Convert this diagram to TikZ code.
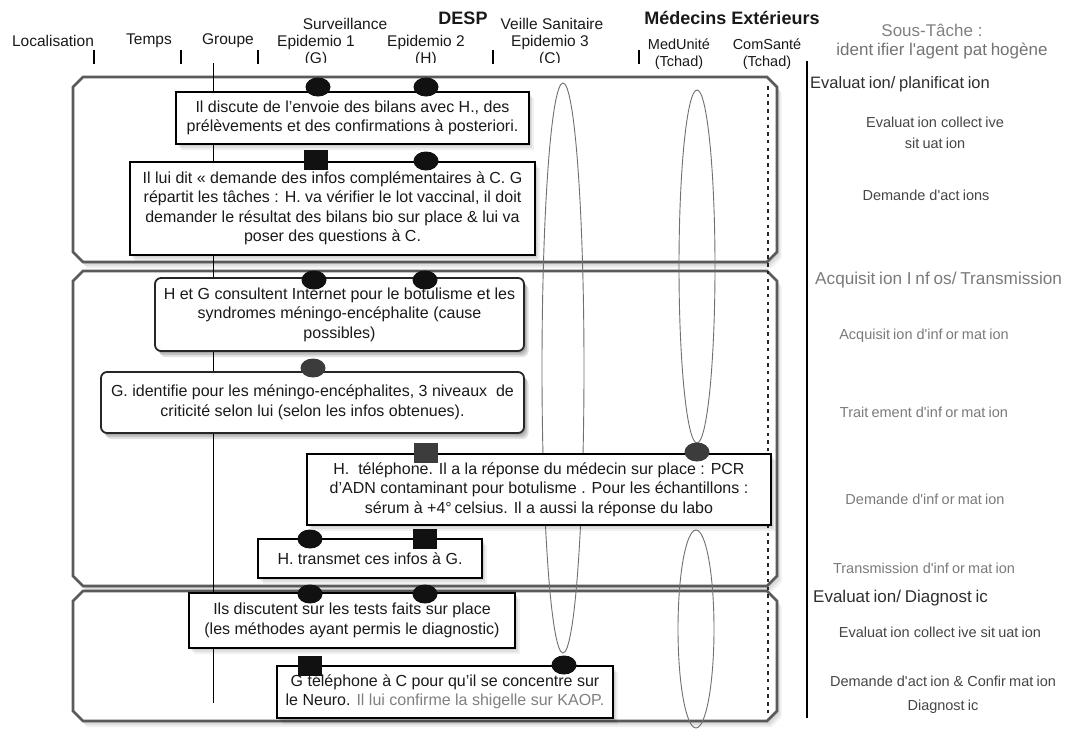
\documentclass[tikz,border=0pt]{standalone}
\usepackage{fontspec}
\setmainfont{Liberation Sans}
\usetikzlibrary{shapes.geometric}

\definecolor{ink}{HTML}{1A1A1A}
\definecolor{frame}{HTML}{5A5A5A}
\definecolor{lens}{HTML}{707070}
\definecolor{mark}{HTML}{111111}
\definecolor{markgray}{HTML}{3C3C3C}
\definecolor{lbldark}{HTML}{2E2E2E}
\definecolor{lblmid}{HTML}{454545}
\definecolor{lbllight}{HTML}{7A7A7A}

% small gap used in the task labels
\newcommand\gp{\kern.22em\relax}
\newcommand\fs[2]{\fontsize{#1}{#2}\selectfont}
\newcommand\sq{\textquotesingle}

\tikzset{
  softshadow/.style={
    preaction={fill=black,opacity=.07,transform canvas={xshift=1.5pt,yshift=-2pt}},
    preaction={fill=black,opacity=.07,transform canvas={xshift=3pt,yshift=-4pt}},
    preaction={fill=black,opacity=.06,transform canvas={xshift=4.5pt,yshift=-6pt}}},
  panel/.style={draw=frame,line width=2.6pt,fill=white,softshadow,line join=miter},
  ibox/.style={rectangle,draw=black,line width=1.3pt,fill=white,softshadow,
    align=center,inner sep=0pt,text=ink,font=\fs{16}{19.5}},
  rbox/.style={ibox,rounded corners=6pt,line width=1.8pt,draw=black!85},
  dotm/.style={ellipse,fill=mark,minimum width=25pt,minimum height=19pt,inner sep=0pt},
  sqm/.style={rectangle,fill=mark,minimum width=24pt,minimum height=20pt,inner sep=0pt},
  lensline/.style={ellipse,draw=lens,line width=0.9pt,inner sep=0pt},
  head/.style={text=black!90,font=\fs{15.5}{17},inner sep=0pt,align=center},
  bighead/.style={text=black!90,font=\bfseries\fs{18}{20},inner sep=0pt},
  tick/.style={line width=2.4pt},
  dotrule/.style={line width=2.4pt,draw=black!85,dash pattern=on 3.5pt off 4.2pt},
  task/.style={inner sep=0pt,align=center,font=\fs{14.5}{21}},
  phase/.style={inner sep=0pt,anchor=west,font=\fs{17}{20}},
}

\newcommand\ibox[7][]{%
  \node[ibox,#1,minimum width={#5-#3},minimum height={#6-#4}] (#2)
    at ({(#3+#5)/2},{(#4+#6)/2}) {#7};}
\newcommand\panelbox[4]{%
  \draw[panel] ({#1+10},#2) -- ({#3-10},#2) -- (#3,{#2+10}) -- (#3,{#4-10})
    -- ({#3-10},#4) -- ({#1+10},#4) -- (#1,{#4-10}) -- (#1,{#2+10}) -- cycle;}

\begin{document}
\begin{tikzpicture}[x=1pt,y=-1pt]
\useasboundingbox (0,0) rectangle (1069,731);

% ---- column headers
\node[head] (hLoc) at (53,41) {Localisation};
\node[head] (hTps) at (149,41) {Temps};
\node[head] (hGrp) at (228,41) {Groupe};
\node[bighead] (hDesp) at (463,18) {DESP};
\node[head] (hSurv) at (345,24) {Surveillance};
\node[head] (hVeil) at (552,24) {Veille Sanitaire};
\node[head] (hE1) at (316,42) {Epidemio 1};
\node[head] (hE2) at (426,42) {Epidemio 2};
\node[head] (hE3) at (550,42) {Epidemio 3};
\node[head] (hG) at (316,59) {(G)};
\node[head] (hH) at (426,59) {(H)};
\node[head] (hC) at (550,59) {(C)};
\node[bighead] (hMed) at (732,18) {Médecins Extérieurs};
\node[head,font=\fs{14.5}{17}] (hMU) at (679,44) {MedUnité};
\node[head,font=\fs{14.5}{17}] (hCS) at (767,44) {ComSanté};
\node[head,font=\fs{14.5}{17}] (hMUt) at (679,63) {(Tchad)};
\node[head,font=\fs{14.5}{17}] (hCSt) at (767,63) {(Tchad)};
\node[head,text=black!50,font=\fs{17}{20}] (hSous) at (932,30) {Sous-Tâche :};
\node[head,text=black!55,font=\fs{17}{20}] (hId) at (942,51)
  {ident\gp ifier l\sq agent pat\gp hogène};
\fill[white] (270,63) rectangle (620,77);

% header ticks
\foreach \tx in {94,181,258,493,639}
  \draw[tick] (\tx,50) -- (\tx,64);

% ---- phase panels
\panelbox{73}{77}{777}{262}
\panelbox{73}{271}{777}{586}
\panelbox{73}{591}{777}{721}

\draw[dotrule] (768,86) -- (768,716);

% group time line
\coordinate (grpTop) at (213,63);
\coordinate (grpBot) at (213,703);
\draw[line width=1pt] (grpTop) -- (grpBot);

% actor life lines
\node[lensline,minimum width=42pt,minimum height=570pt] (lensC) at (563,368) {};
\node[lensline,minimum width=36pt,minimum height=353pt] (lensMa) at (697,266.5) {};
\node[lensline,minimum width=36pt,minimum height=198pt] (lensMb) at (696,629) {};

% ---- activity boxes
\ibox{b1}{176}{92}{529}{144}{Il discute de l’envoie des bilans avec H., des\\prélèvements et des confirmations à posteriori.}
\ibox{b2}{130}{162}{535}{255}{Il lui dit « demande des infos complémentaires à C. G\\répartit les tâches : H. va vérifier le lot vaccinal, il doit\\demander le résultat des bilans bio sur place \& lui va\\poser des questions à C.}
\ibox[rbox]{b3}{155}{278}{524}{351}{H et G consultent Internet pour le botulisme et les\\syndromes méningo-encéphalite (cause\\possibles)}
\ibox[rbox]{b4}{101}{372}{524}{433}{G. identifie pour les méningo-encéphalites, 3 niveaux~~de\\criticité selon lui (selon les infos obtenues).}
\ibox{b5}{307}{454}{771}{525}{H.~~téléphone. Il a la réponse du médecin sur place : PCR\\d’ADN contaminant pour botulisme . Pour les échantillons :\\sérum à +4°\,celsius. Il a aussi la réponse du labo}
\ibox{b6}{258}{539}{482}{578}{H. transmet ces infos à G.}
\ibox{b7}{189}{593}{515}{648}{Ils discutent sur les tests faits sur place\\(les méthodes ayant permis le diagnostic)}
\ibox{b8}{277}{666}{613}{718}{G téléphone à C pour qu’il se concentre sur\\le Neuro. {\color{black!50}Il lui confirme la shigelle sur KAOP.}}

% ---- participation markers
\node[dotm] (m1a) at (318,87) {};
\node[dotm] (m1b) at (426,87) {};
\node[sqm]  (m2a) at (316,160) {};
\node[dotm] (m2b) at (426,161) {};
\node[dotm] (m3a) at (314,280) {};
\node[dotm] (m3b) at (425,280) {};
\node[dotm,fill=markgray] (m4) at (313,368) {};
\node[sqm,fill=markgray]  (m5a) at (426,453) {};
\node[dotm,fill=markgray] (m5b) at (697,452) {};
\node[dotm] (m6a) at (310,539) {};
\node[sqm]  (m6b) at (425,539) {};
\node[dotm] (m7a) at (310,594) {};
\node[dotm] (m7b) at (425,594) {};
\node[sqm]  (m8a) at (310,666) {};
\node[dotm] (m8b) at (564,665) {};

% ---- sub-task column
\draw[line width=2.6pt] (807,61) -- (807,718);
\node[phase,text=lbldark,font=\fs{16.5}{20}] (p1) at (810,84) {Evaluat\gp ion/\gp planificat\gp ion};
\node[task,text=lblmid] (t1) at (935,132.5) {Evaluat\gp ion collect\gp ive\\sit\gp uat\gp ion};
\node[task,text=lblmid] (t2) at (926,195) {Demande d\sq act\gp ions};
\node[phase,text=lbllight,font=\fs{17.2}{20}] (p2) at (815,280) {Acquisit\gp ion I\gp nf\gp os/\gp Transmission};
\node[task,text=lbllight] (t3) at (924,336) {Acquisit\gp ion d\sq inf\gp or\gp mat\gp ion};
\node[task,text=lbllight] (t4) at (924,412) {Trait\gp ement d\sq inf\gp or\gp mat\gp ion};
\node[task,text=lbllight] (t5) at (925,499) {Demande d\sq inf\gp or\gp mat\gp ion};
\node[task,text=lbllight] (t6) at (924,568) {Transmission d\sq inf\gp or\gp mat\gp ion};
\node[phase,text=lbldark] (p3) at (813,598) {Evaluat\gp ion/\gp Diagnost\gp ic};
\node[task,text=lblmid] (t7) at (940,632) {Evaluat\gp ion collect\gp ive sit\gp uat\gp ion};
\node[task,text=lblmid,font=\fs{14.5}{24}] (t8) at (943,695) {Demande d\sq act\gp ion \& Confir\gp mat\gp ion\\Diagnost\gp ic};
\end{tikzpicture}
\end{document}
